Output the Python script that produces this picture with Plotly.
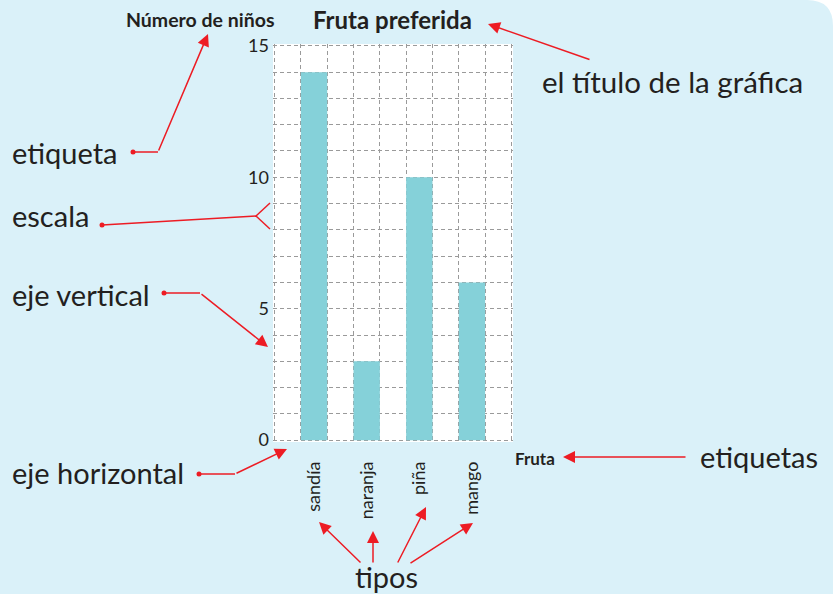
import plotly.graph_objects as go

# data
frutas = ["sandía", "naranja", "piña", "mango"]
ninos = [14, 3, 10, 6]
posiciones = [1.5, 3.5, 5.5, 7.5]
y_ticks = [0, 5, 10, 15]

W, H = 833, 594
L, R, T, B = 273, 513, 44, 442  # plot area in pixels

RED = "#ed1c24"
INK = "#231f20"
BG = "#daf1f9"
FONT = "Lato"


def px(x):
    return (x - L) / (R - L)


def py(y):
    return (B - y) / (B - T)


fig = go.Figure()
fig.add_trace(go.Bar(x=posiciones, y=ninos, width=1, marker_color="#85d1d9",
                     marker_line_width=0, showlegend=False))

shapes = []
# white rounded corner top right
shapes.append(dict(
    type="path", xref="paper", yref="paper", line_width=0, fillcolor="white",
    path=(f"M {px(W - 26)},{py(0)} Q {px(W)},{py(0)} {px(W)},{py(26)} "
          f"L {px(W + 2)},{py(26)} L {px(W + 2)},{py(-2)} L {px(W - 26)},{py(-2)} Z"),
))


def seg(x0, y0, x1, y1):
    shapes.append(dict(type="line", xref="paper", yref="paper",
                       x0=px(x0), y0=py(y0), x1=px(x1), y1=py(y1),
                       line=dict(color=RED, width=1.5)))


def dot(x, y):
    shapes.append(dict(type="circle", xref="paper", yref="paper",
                       xsizemode="pixel", ysizemode="pixel",
                       xanchor=px(x), yanchor=py(y), x0=-2.5, x1=2.5, y0=-2.5, y1=2.5,
                       fillcolor=RED, line_width=0))


annotations = []


def text(s, x, y, size=29, bold=False, xanchor="center"):
    annotations.append(dict(
        text=f"<b>{s}</b>" if bold else s, x=px(x), y=py(y), xref="paper", yref="paper",
        showarrow=False, xanchor=xanchor, yanchor="middle",
        font=dict(family=FONT, size=size, color=INK)))


def arrow(x0, y0, x1, y1):
    annotations.append(dict(
        text="", x=px(x1), y=py(y1), xref="paper", yref="paper",
        showarrow=True, ax=x0 - x1, ay=y0 - y1, arrowhead=2, arrowsize=1.6,
        arrowwidth=1.5, arrowcolor=RED, standoff=0))


# titles
text("Fruta preferida", 392, 19, size=24, bold=True)
text("Número de niños", 200, 20, size=19.5, bold=True)
text("Fruta", 513, 458, size=17, bold=True, xanchor="left")

# callouts
text("el título de la gráfica", 540, 82, size=29.5, xanchor="left")
arrow(591, 60, 488, 24)

text("etiqueta", 10, 152, xanchor="left")
dot(133, 152)
seg(133, 152, 158, 152)
arrow(158, 152, 208, 34)

text("escala", 10, 215, xanchor="left")
dot(102, 225)
seg(102, 225, 256, 216)
seg(256, 216, 270, 203)
seg(256, 216, 270, 229)

text("eje vertical", 10, 294, xanchor="left")
dot(164, 293)
seg(164, 293, 200, 293)
arrow(200, 293, 268, 347)

text("eje horizontal", 10, 472, xanchor="left")
dot(199, 474)
seg(199, 474, 235, 474)
arrow(235, 474, 287, 449)

text("etiquetas", 698, 456, xanchor="left")
arrow(687, 457, 563, 457)

text("tipos", 386, 576)
arrow(362, 564, 319, 522)
arrow(373, 564, 373, 531)
arrow(397, 564, 426, 507)
arrow(409, 564, 473, 523)

grid = dict(showgrid=True, gridcolor="#9a9a9a", griddash="4px,3px", gridwidth=1)

fig.update_layout(
    width=W, height=H,
    margin=dict(l=L, r=W - R, t=T, b=H - B),
    paper_bgcolor=BG, plot_bgcolor="white",
    shapes=shapes, annotations=annotations,
    font=dict(family=FONT, color=INK),
    xaxis=dict(range=[-0.06, 9.06], tickvals=posiciones, ticktext=frutas, tickangle=-90,
               showgrid=False, zeroline=False, ticks="", ticklabelstandoff=15,
               tickfont=dict(size=18, color=INK),
               minor=dict(tick0=0, dtick=1, **grid)),
    yaxis=dict(range=[-0.07, 15.07], tickvals=y_ticks, zeroline=False, ticks="",
               tickfont=dict(size=18, color=INK), ticklabelstandoff=3,
               minor=dict(tick0=0, dtick=1, **grid),
               **{k: v for k, v in grid.items()}),
)

fig.write_html("out.html", config={"displayModeBar": False},
               post_script="document.body.style.margin='0';document.body.style.overflow='hidden';")
